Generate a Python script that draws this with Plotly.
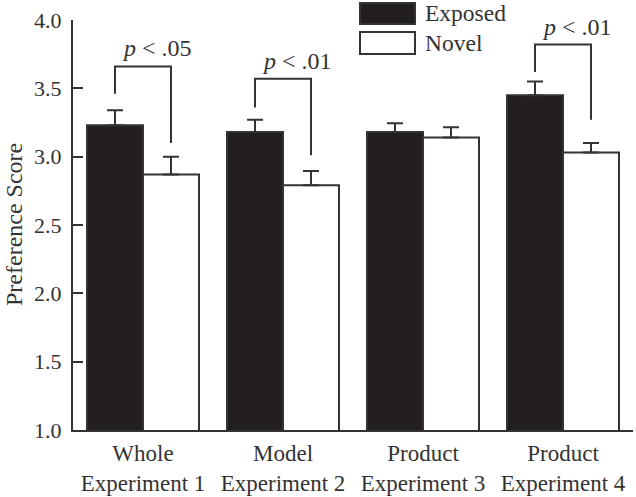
import plotly.graph_objects as go

# ---- data ----
categories = ["Whole<br>Experiment 1", "Model<br>Experiment 2",
              "Product<br>Experiment 3", "Product<br>Experiment 4"]
exposed = [3.23, 3.18, 3.18, 3.45]
exposed_err = [0.11, 0.09, 0.065, 0.10]
novel = [2.87, 2.79, 3.14, 3.03]
novel_err = [0.13, 0.105, 0.075, 0.07]
y_ticks = [1.0, 1.5, 2.0, 2.5, 3.0, 3.5, 4.0]
y_title = "Preference Score"

# significance brackets (group index, label, levels in data units)
sig_groups = [0, 1, 3]
sig_labels = ["<i>p</i> &lt; .05", "<i>p</i> &lt; .01", "<i>p</i> &lt; .01"]
bracket_top = [3.66, 3.57, 3.82]
left_leg_bottom = [3.46, 3.36, 3.62]
right_leg_bottom = [3.10, 3.01, 3.27]

FONT = "Liberation Serif, Times New Roman, serif"
INK = "#333333"
DARK = "#231f20"

fig = go.Figure()
fig.add_trace(go.Bar(
    name="Exposed", x=categories, y=exposed,
    marker=dict(color=DARK, line=dict(color=INK, width=2)),
    error_y=dict(type="data", symmetric=False, array=exposed_err,
                 arrayminus=[0] * len(exposed_err), color=INK,
                 thickness=2, width=8),
))
fig.add_trace(go.Bar(
    name="Novel", x=categories, y=novel,
    marker=dict(color="white", line=dict(color=INK, width=2)),
    error_y=dict(type="data", symmetric=False, array=novel_err,
                 arrayminus=[0] * len(novel_err), color=INK,
                 thickness=2, width=8),
))

# bracket offsets: bars are at category index -/+ 0.2 (bargap 0.2, 2 bars)
half = 0.2
for g, lab, top, lb, rb in zip(sig_groups, sig_labels, bracket_top,
                               left_leg_bottom, right_leg_bottom):
    xl, xr = g - half, g + half
    fig.add_shape(type="path", xref="x", yref="y",
                  path=f"M {xl} {lb} L {xl} {top} L {xr} {top} L {xr} {rb}",
                  line=dict(color=INK, width=2))
    fig.add_annotation(x=g, y=top, xref="x", yref="y", text=lab,
                       showarrow=False, yanchor="bottom", xshift=14, yshift=3,
                       font=dict(family=FONT, size=24, color=INK))

# layout geometry (pixels)
W, H = 636, 497
L, R, T, B = 73, 3, 20, 67
pw, ph = W - L - R, H - T - B
def px(x):
    return (x - L) / pw
def py(y):
    return (H - B - y) / ph

# manual legend (large swatches as in the original)
legend_items = [("Exposed", DARK, 3, 24), ("Novel", "white", 32, 54)]
for name, col, y0, y1 in legend_items:
    fig.add_shape(type="rect", xref="paper", yref="paper",
                  x0=px(360), x1=px(415), y0=py(y1), y1=py(y0),
                  fillcolor=col, line=dict(color=INK, width=2))
    fig.add_annotation(xref="paper", yref="paper", x=px(423), y=py((y0 + y1) / 2),
                       text=name, showarrow=False, xanchor="left", yanchor="middle",
                       font=dict(family=FONT, size=23.5, color=INK))

# y-axis title placed close to the left edge
fig.add_annotation(xref="paper", yref="paper", x=px(0), y=0.5, text=y_title,
                   textangle=-90, showarrow=False, xanchor="left", yanchor="middle",
                   borderpad=0, font=dict(family=FONT, size=24, color=INK))

fig.update_layout(
    width=W, height=H,
    margin=dict(l=L, r=R, t=T, b=B, pad=0),
    paper_bgcolor="white", plot_bgcolor="white",
    barmode="group", bargap=0.2, bargroupgap=0,
    showlegend=False,
    font=dict(family=FONT, size=22, color=INK),
)
fig.update_xaxes(
    range=[-0.5, 3.5], showline=True, linecolor=INK, linewidth=2,
    ticks="", showgrid=False, zeroline=False, automargin=False,
    ticklabelstandoff=1,
    tickfont=dict(family=FONT, size=23, color=INK),
)
fig.update_yaxes(
    range=[1.0, 4.0], tickvals=y_ticks, tickformat=".1f",
    showline=True, linecolor=INK, linewidth=2, automargin=False,
    ticks="inside", ticklen=10, tickwidth=2, tickcolor=INK,
    ticklabelstandoff=5,
    showgrid=False, zeroline=False,
    tickfont=dict(family=FONT, size=22, color=INK),
)

fig.write_html("out.html", config={"displayModeBar": False},
               post_script="document.body.style.margin='0';document.body.style.overflow='hidden';")
